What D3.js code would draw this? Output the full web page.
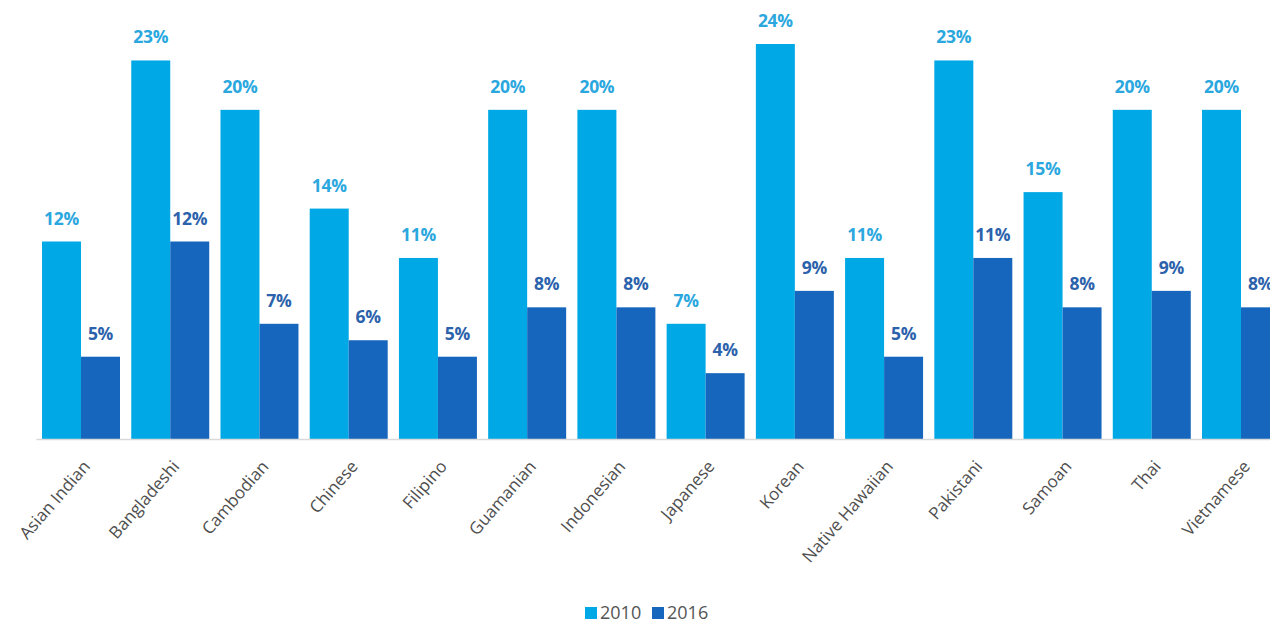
<!DOCTYPE html>
<html>
<head>
<meta charset="utf-8">
<script src="https://cdn.jsdelivr.net/npm/d3@7"></script>
<style>
  body { margin: 0; background: #fff; font-family: "Open Sans", "Noto Sans", sans-serif; }
  .value-label { font-family: "Open Sans", sans-serif; font-weight: 700; font-size: 17.5px; letter-spacing: -0.3px; }
  .cat-label { font-family: "Open Sans", sans-serif; font-size: 17px; fill: #4f4f4f; }
  .legend-label { font-family: "Open Sans", sans-serif; font-size: 18px; fill: #555; }
</style>
</head>
<body>
<div id="chart"></div>
<script>
// Data
let categories = ["Asian Indian", "Bangladeshi", "Cambodian", "Chinese", "Filipino", "Guamanian",
  "Indonesian", "Japanese", "Korean", "Native Hawaiian", "Pakistani", "Samoan", "Thai", "Vietnamese"];
let series = ["2010", "2016"];
let values2010 = [12, 23, 20, 14, 11, 20, 20, 7, 24, 11, 23, 15, 20, 20];
let values2016 = [5, 12, 7, 6, 5, 8, 8, 4, 9, 5, 11, 8, 9, 8];

let data = categories.map((c, i) => ({
  category: c,
  values: [
    { key: "2010", value: values2010[i] },
    { key: "2016", value: values2016[i] },
  ],
}));

// Dimensions
let width = 1270;
let height = 625;
let baseline = 439;
let step = 89.23;
let start = 36.4;

// Colors
let barFill = { "2010": "#00a8e6", "2016": "#1766bd" };
let labelFill = { "2010": "#2aa7de", "2016": "#2b62ab" };

// Scales
let x0 = d3.scaleBand()
  .domain(categories)
  .range([start, start + step * categories.length])
  .paddingInner(0.126)
  .paddingOuter(0.063);

let x1 = d3.scaleBand()
  .domain(series)
  .range([0, x0.bandwidth()]);

let y = d3.scaleLinear()
  .domain([0, 24])
  .range([baseline, 44]);

let color = d3.scaleOrdinal().domain(series).range(series.map((s) => barFill[s]));

const svg = d3.select("#chart").append("svg")
  .attr("width", width)
  .attr("height", height);

// Groups
const group = svg.append("g")
  .selectAll("g")
  .data(data)
  .join("g")
  .attr("transform", (d) => `translate(${x0(d.category)},0)`);

group.selectAll("rect")
  .data((d) => d.values)
  .join("rect")
  .attr("x", (d) => x1(d.key))
  .attr("y", (d) => y(d.value))
  .attr("width", x1.bandwidth())
  .attr("height", (d) => y(0) - y(d.value))
  .attr("fill", (d) => color(d.key));

group.selectAll("text")
  .data((d) => d.values)
  .join("text")
  .attr("class", "value-label")
  .attr("x", (d) => x1(d.key) + x1.bandwidth() / 2)
  .attr("y", (d) => y(d.value) - 17)
  .attr("text-anchor", "middle")
  .attr("fill", (d) => labelFill[d.key])
  .text((d) => `${d.value}%`);

// Baseline
svg.append("line")
  .attr("x1", start)
  .attr("x2", width)
  .attr("y1", baseline + 0.5)
  .attr("y2", baseline + 0.5)
  .attr("stroke", "#d9d9d9")
  .attr("stroke-width", 1.5);

// Category labels
const xAxisG = svg.append("g")
  .attr("transform", `translate(0,${baseline})`)
  .call(d3.axisBottom(x0).tickSize(0).tickPadding(0));
xAxisG.select(".domain").remove();
xAxisG.selectAll("text")
  .attr("class", "cat-label")
  .attr("fill", null)
  .attr("text-anchor", "end")
  .attr("dy", null)
  .attr("y", 0)
  .attr("transform", "translate(10,28) rotate(-49)");

// Legend
const legend = svg.append("g")
  .attr("transform", `translate(585,613)`);

const legendItem = legend.selectAll("g")
  .data(series)
  .join("g")
  .attr("transform", (d, i) => `translate(${i * 67},0)`);

legendItem.append("rect")
  .attr("x", 0)
  .attr("y", -6)
  .attr("width", 12)
  .attr("height", 12)
  .attr("fill", (d) => color(d));

legendItem.append("text")
  .attr("class", "legend-label")
  .attr("x", 15)
  .attr("dy", "0.36em")
  .text((d) => d);
</script>
</body>
</html>
